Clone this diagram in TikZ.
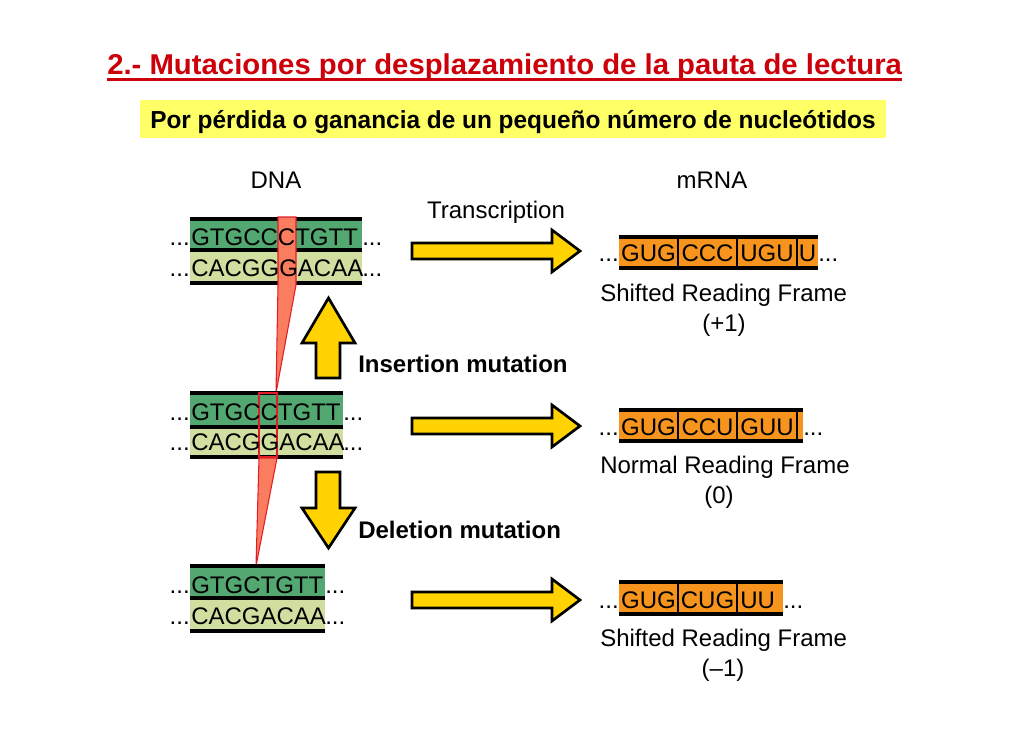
\documentclass[tikz,border=0pt]{standalone}
\usepackage{fontspec}
\setmainfont{Liberation Sans}
\usepackage{graphicx}
\definecolor{titlered}{RGB}{204,0,10}
\definecolor{subyellow}{RGB}{255,255,102}
\definecolor{dkgreen}{RGB}{82,168,112}
\definecolor{ltgreen}{RGB}{208,222,160}
\definecolor{mrnaorange}{RGB}{247,148,30}
\definecolor{salmon}{RGB}{250,125,95}
\definecolor{hlred}{RGB}{225,30,40}
\definecolor{arrowyellow}{RGB}{255,210,0}
\tikzset{
  txt/.style={inner sep=0pt, font=\fontsize{18pt}{21pt}\selectfont},
  seq/.style={txt, anchor=base west},
  lbl/.style={inner sep=0pt, font=\fontsize{18pt}{21pt}\selectfont\bfseries, anchor=base west},
  strand/.style={line width=2.5pt, black},
  codonline/.style={line width=2.3pt, black},
  divider/.style={line width=1.5pt, black},
  hl/.style={fill=salmon, draw=hlred, line width=0.8pt},
  blockarrow/.style={fill=arrowyellow, draw=black, line width=2pt, line join=miter},
}
\begin{document}
\begin{tikzpicture}[x=0.75pt, y=-0.75pt]
\useasboundingbox (0,0) rectangle (1030,728);

% title
\node[inner sep=0pt, anchor=base west, text=titlered] (title) at (107,74)
  {\resizebox{596pt}{\height}{\fontsize{21.5pt}{25pt}\selectfont\bfseries 2.- Mutaciones por desplazamiento de la pauta de lectura}};
\draw[titlered, line width=1.6pt] (107,79.5) -- (902,79.5);

% subtitle box
\fill[subyellow] (140,100) rectangle (886,138);
\node[inner sep=0pt, anchor=base west] (subtitle) at (150,128)
  {\resizebox{544pt}{\height}{\fontsize{18.5pt}{23pt}\selectfont\bfseries Por pérdida o ganancia de un pequeño número de nucleótidos}};

% headers
\node[txt, anchor=base] (dna) at (276,188) {DNA};
\node[txt, anchor=base] (mrna) at (712,188) {mRNA};
\node[txt, anchor=base] (transc) at (496,218) {Transcription};

% ---------- DNA block 1 (insertion) ----------
\fill[dkgreen] (190,219) rectangle (362,250);
\fill[ltgreen] (190,250) rectangle (362,283);
\draw[strand] (190,219) -- (362,219);
\draw[strand] (190,250) -- (362,250);
\draw[strand] (190,283) -- (362,283);
\filldraw[hl] (278,217) -- (296,217) -- (296,285) -- (276,393) -- (278,285) -- cycle;
\node[seq] (d1a) at (191,245) {GTGCCCTGTT};
\node[seq, anchor=base east] (d1ad) at (190,245) {...};
\node[seq] (d1ae) at (362,245) {...};
\node[seq] (d1b) at (191,276) {CACGGGACAA};
\node[seq, anchor=base east] (d1bd) at (190,276) {...};
\node[seq] (d1be) at (362,276) {...};

% ---------- DNA block 2 (normal) ----------
\fill[dkgreen] (190,393) rectangle (343,427);
\fill[ltgreen] (190,427) rectangle (343,457);
\draw[strand] (190,393) -- (343,393);
\draw[strand] (190,427) -- (343,427);
\draw[strand] (190,457) -- (343,457);
\fill[salmon, draw=hlred, line width=0.8pt] (259,458) -- (277,458) -- (256,566) -- cycle;
\draw[hlred, line width=1pt] (259,393) rectangle (277,457);
\node[seq] (d2a) at (191,420) {GTGCCTGTT};
\node[seq, anchor=base east] (d2ad) at (190,420) {...};
\node[seq] (d2ae) at (343,420) {...};
\node[seq] (d2b) at (191,450) {CACGGACAA};
\node[seq, anchor=base east] (d2bd) at (190,450) {...};
\node[seq] (d2be) at (343,450) {...};

% ---------- DNA block 3 (deletion) ----------
\fill[dkgreen] (190,566) rectangle (325,598);
\fill[ltgreen] (190,598) rectangle (325,631);
\draw[strand] (190,566) -- (325,566);
\draw[strand] (190,598) -- (325,598);
\draw[strand] (190,631) -- (325,631);
\node[seq] (d3a) at (191,593) {GTGCTGTT};
\node[seq, anchor=base east] (d3ad) at (190,593) {...};
\node[seq] (d3ae) at (325,593) {...};
\node[seq] (d3b) at (191,624) {CACGACAA};
\node[seq, anchor=base east] (d3bd) at (190,624) {...};
\node[seq] (d3be) at (325,624) {...};

% ---------- vertical arrows ----------
\draw[blockarrow] (316,378) -- (316,343) -- (302,343) -- (328.5,298) -- (355,343) -- (340,343) -- (340,378) -- cycle;
\draw[blockarrow] (316,472) -- (340,472) -- (340,508) -- (355,508) -- (328.5,548) -- (302,508) -- (316,508) -- cycle;
\node[lbl] (ins) at (358,372) {Insertion mutation};
\node[lbl] (del) at (358,538) {Deletion mutation};

% ---------- transcription arrows ----------
\foreach \yc in {251,426,600}{
  \draw[blockarrow] (412,\yc-8) -- (552,\yc-8) -- (552,\yc-21) -- (580,\yc) -- (552,\yc+21) -- (552,\yc+8) -- (412,\yc+8) -- cycle;
}

% ---------- mRNA 1 ----------
\fill[mrnaorange] (619,237) rectangle (818,268);
\draw[codonline] (619,237) -- (818,237);
\draw[codonline] (619,268) -- (818,268);
\foreach \xx in {678,737,797} \draw[divider] (\xx,237) -- (\xx,268);
\node[txt, anchor=base] (m1a) at (648.5,261) {GUG};
\node[txt, anchor=base] (m1b) at (707.5,261) {CCC};
\node[txt, anchor=base] (m1c) at (767,261) {UGU};
\node[txt, anchor=base] (m1d) at (807.5,261) {U};
\node[seq, anchor=base east] (m1s) at (619,261) {...};
\node[seq] (m1e) at (818,261) {...};
\node[seq] (f1) at (600,301) {Shifted Reading Frame};
\node[txt, anchor=base] (f1n) at (724,331) {(+1)};

% ---------- mRNA 2 ----------
\fill[mrnaorange] (619,410) rectangle (803,441);
\draw[codonline] (619,410) -- (803,410);
\draw[codonline] (619,441) -- (803,441);
\foreach \xx in {678,737,797} \draw[divider] (\xx,410) -- (\xx,441);
\node[txt, anchor=base] (m2a) at (648.5,435) {GUG};
\node[txt, anchor=base] (m2b) at (707.5,435) {CCU};
\node[txt, anchor=base] (m2c) at (767,435) {GUU};
\node[seq, anchor=base east] (m2s) at (619,435) {...};
\node[seq] (m2e) at (803,435) {...};
\node[seq] (f2) at (600,473) {Normal Reading Frame};
\node[txt, anchor=base] (f2n) at (719,503) {(0)};

% ---------- mRNA 3 ----------
\fill[mrnaorange] (619,582) rectangle (783,614);
\draw[codonline] (619,582) -- (783,582);
\draw[codonline] (619,614) -- (783,614);
\foreach \xx in {678,737} \draw[divider] (\xx,582) -- (\xx,614);
\node[txt, anchor=base] (m3a) at (648.5,608) {GUG};
\node[txt, anchor=base] (m3b) at (707.5,608) {CUG};
\node[seq] (m3c) at (740,608) {UU};
\node[seq, anchor=base east] (m3s) at (619,608) {...};
\node[seq] (m3e) at (783,608) {...};
\node[seq] (f3) at (600,646) {Shifted Reading Frame};
\node[txt, anchor=base] (f3n) at (723,676) {(–1)};

\end{tikzpicture}
\end{document}
